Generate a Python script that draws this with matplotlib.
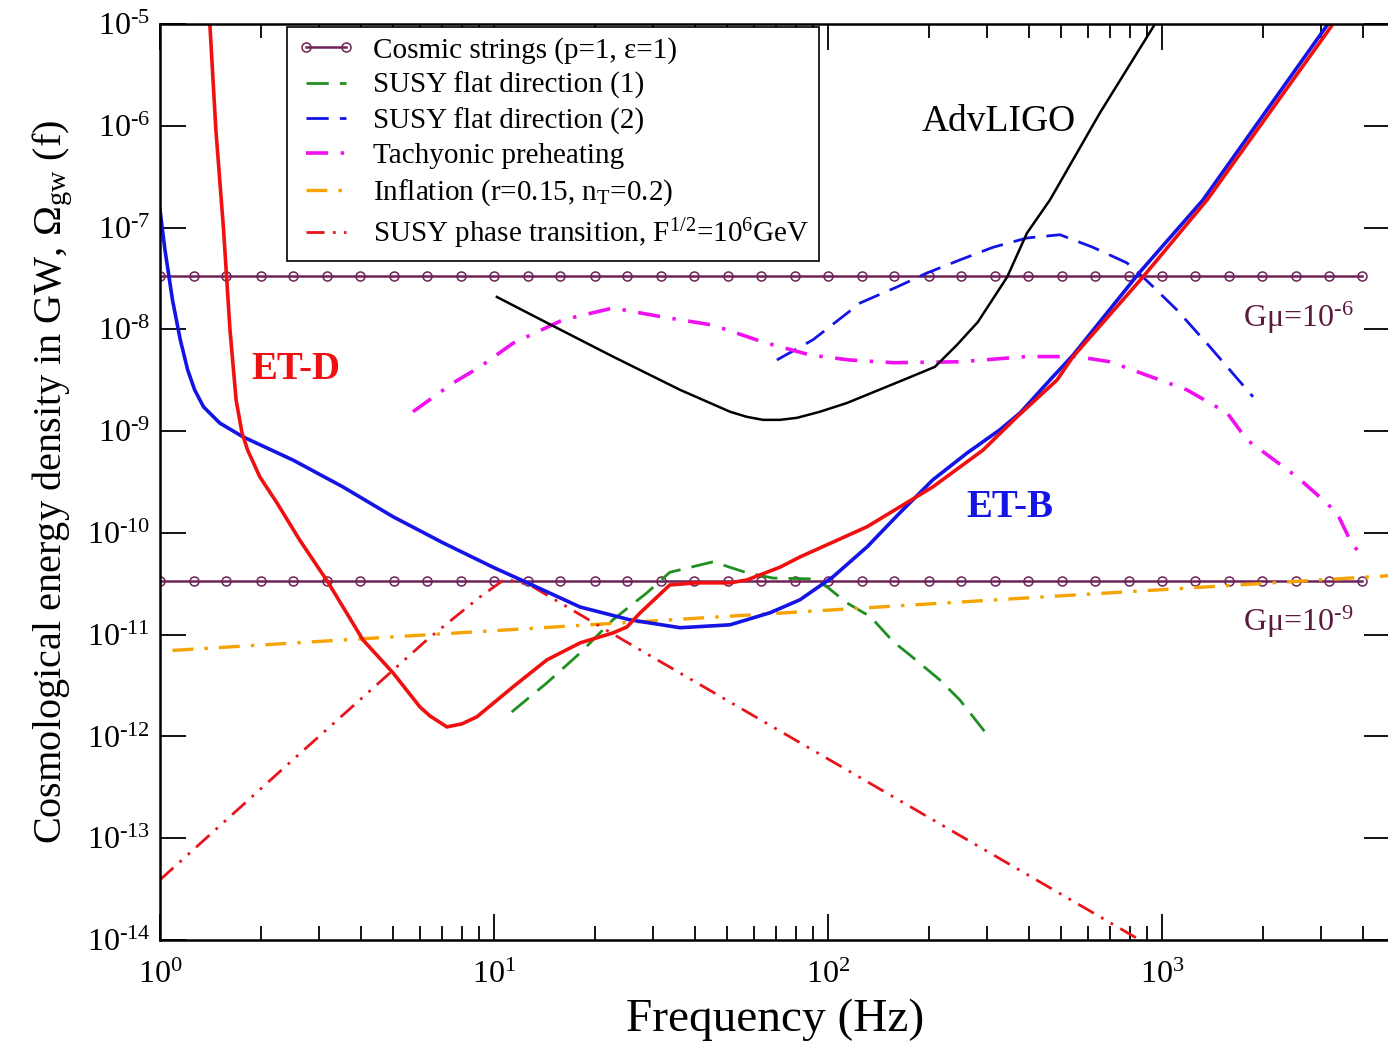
import numpy as np
import matplotlib
matplotlib.use('Agg')
import matplotlib.pyplot as plt
from matplotlib.ticker import (LogLocator, NullLocator, NullFormatter,
                               FuncFormatter, FixedLocator)

# ---- data (frequency in Hz, Omega_gw dimensionless) ----

# Einstein Telescope, configuration D
etd_f = [1.41, 1.47, 1.55, 1.62, 1.69, 1.76, 1.83, 1.99, 2.24, 2.62, 3.18, 4.05,
         4.99, 6.00, 6.43, 7.23, 8.02, 8.89, 11.4, 14.4, 18.1, 22.7, 25.0, 27.4,
         30.8, 33.6, 40.5, 50.9, 57.2, 71.8, 82.4, 131, 206, 291, 368, 485, 542,
         877, 1365, 3251]
etd_om = [1e-5, 9.1e-7, 9.5e-8, 9.9e-9, 2.02e-9, 9.6e-10, 6.5e-10, 3.55e-10,
          1.97e-10, 8.5e-11, 3.3e-11, 8.9e-12, 4.2e-12, 1.95e-12, 1.59e-12,
          1.24e-12, 1.33e-12, 1.56e-12, 3.07e-12, 5.65e-12, 8.3e-12, 1.04e-11,
          1.19e-11, 1.64e-11, 2.35e-11, 3.08e-11, 3.23e-11, 3.23e-11, 3.45e-11,
          4.6e-11, 5.8e-11, 1.15e-10, 2.83e-10, 6.5e-10, 1.38e-9, 3.18e-9,
          5.4e-9, 3.27e-8, 1.87e-7, 1e-5]

# Einstein Telescope, configuration B
etb_f = [1.0, 1.035, 1.09, 1.15, 1.21, 1.27, 1.35, 1.51, 1.77, 2.50, 3.53, 4.99,
         7.03, 9.93, 12.6, 18.1, 25.5, 36.1, 50.9, 67.0, 82.4, 103.5, 131, 164,
         206, 261, 327, 376, 462, 542, 859, 1327, 3141]
etb_om = [1.49e-7, 6.0e-8, 1.94e-8, 7.9e-9, 4.0e-9, 2.54e-9, 1.73e-9, 1.2e-9,
          8.8e-10, 5.2e-10, 2.83e-10, 1.44e-10, 8.0e-11, 4.6e-11, 3.23e-11,
          1.87e-11, 1.4e-11, 1.17e-11, 1.25e-11, 1.64e-11, 2.2e-11, 3.7e-11,
          7.3e-11, 1.57e-10, 3.32e-10, 6.1e-10, 1.03e-9, 1.51e-9, 3.18e-9,
          5.6e-9, 3.66e-8, 1.87e-7, 1e-5]

# Advanced LIGO
ligo_f = [10.2, 14.4, 22.7, 36.1, 50.9, 57.2, 63.9, 71.8, 80.7, 94.6, 114, 168,
          209, 243, 281, 344, 394, 462, 652, 953]
ligo_om = [2.08e-8, 1.16e-8, 5.4e-9, 2.54e-9, 1.55e-9, 1.38e-9, 1.29e-9,
           1.29e-9, 1.35e-9, 1.55e-9, 1.89e-9, 3.18e-9, 4.28e-9, 7.0e-9,
           1.18e-8, 3.27e-8, 8.8e-8, 1.87e-7, 1.34e-6, 1e-5]

# cosmic strings, two values of G mu (flat spectra)
cs_f = [1.0, 1.26, 1.58, 2.0, 2.51, 3.16, 3.98, 5.01, 6.31, 7.94,
        10.0, 12.6, 15.8, 20.0, 25.1, 31.6, 39.8, 50.1, 63.1, 79.4,
        100, 126, 158, 200, 251, 316, 398, 501, 631, 794,
        1000, 1259, 1585, 1995, 2512, 3162, 3981]
cs_hi = 3.35e-8   # G mu = 1e-6
cs_lo = 3.37e-11  # G mu = 1e-9

# SUSY flat direction (1)
sfd1_f = [11.3, 14.4, 18.1, 22.7, 28.7, 33.6, 45.3, 57.2, 68.4, 90.2, 99.3,
          114, 134, 157, 176, 216, 248, 295]
sfd1_om = [1.74e-12, 3.36e-12, 6.6e-12, 1.4e-11, 2.58e-11, 4.1e-11, 5.2e-11,
           4.05e-11, 3.6e-11, 3.53e-11, 2.95e-11, 2.05e-11, 1.5e-11, 8.5e-12,
           6.3e-12, 3.6e-12, 2.29e-12, 1.11e-12]

# SUSY flat direction (2)
sfd2_f = [70.3, 90.2, 125, 161, 198, 248, 312, 394, 495, 621, 785, 877, 1109,
          1393, 1873]
sfd2_om = [5.0e-9, 7.9e-9, 1.82e-8, 2.61e-8, 3.58e-8, 4.8e-8, 6.4e-8, 7.9e-8,
           8.5e-8, 6.4e-8, 4.5e-8, 3.27e-8, 1.55e-8, 6.7e-9, 2.17e-9]

# tachyonic preheating
tach_f = [5.72, 7.54, 9.08, 11.4, 16.1, 22.7, 32.1, 45.3, 63.9, 88.3, 116, 157,
          248, 394, 557, 698, 986, 1188, 1567, 1797, 2537, 3034, 3342, 3656,
          3972]
tach_om = [1.55e-9, 2.97e-9, 4.28e-9, 7.3e-9, 1.24e-8, 1.62e-8, 1.32e-8,
           1.1e-8, 7.5e-9, 5.6e-9, 5.0e-9, 4.7e-9, 4.8e-9, 5.4e-9, 5.4e-9,
           4.8e-9, 3.18e-9, 2.54e-9, 1.51e-9, 8.2e-10, 3.55e-10, 2.11e-10,
           1.57e-10, 8.5e-11, 5.8e-11]

# inflation, r=0.15, n_T=0.2
infl_f = [1.09, 4800]
infl_om = [7.0e-12, 3.8e-11]

# SUSY phase transition, F^1/2 = 1e6 GeV
spt_f = [1.0, 2.50, 6.3, 9.08, 10.8, 12.8, 24.3, 101, 859]
spt_om = [3.9e-14, 5.9e-13, 8.9e-12, 2.35e-11, 3.53e-11, 3.08e-11, 8.9e-12,
          5.9e-13, 1.0e-14]

# axis decades shown
x_decades = [1, 10, 100, 1000]
y_decades = [1e-14, 1e-13, 1e-12, 1e-11, 1e-10, 1e-9, 1e-8, 1e-7, 1e-6, 1e-5]

# ---- style ----
plt.rcParams.update({
    'font.family': 'serif',
    'font.serif': ['Liberation Serif', 'DejaVu Serif'],
    'mathtext.fontset': 'custom',
    'mathtext.rm': 'Liberation Serif',
    'mathtext.it': 'Liberation Serif:italic',
    'mathtext.bf': 'Liberation Serif:bold',
    'lines.scale_dashes': False,
    'axes.unicode_minus': False,
})

RED = '#f01010'
BLUE = '#1414e6'
CS_COL = '#6e2258'
GMU_COL = '#5a1a3e'


def pow10(v, pos):
    # short hyphen in the exponent, like the original
    e = int(round(np.log10(v)))
    return r'10$^{\text{%d}}$' % e


fig = plt.figure(figsize=(13.88, 10.43), dpi=100)
ax = fig.add_axes([160 / 1388, 103 / 1043, 1230 / 1388, 916 / 1043])
ax.set_xscale('log')
ax.set_yscale('log')

# cosmic strings
ax.plot(cs_f, np.full(len(cs_f), cs_hi), color=CS_COL, lw=1.8, marker='o',
        ms=6.5, mfc='none', mew=1.1, label=r'Cosmic strings (p=1, ε=1)')
ax.plot(cs_f, np.full(len(cs_f), cs_lo), color=CS_COL, lw=1.8, marker='o',
        ms=6.5, mfc='none', mew=1.1)

ax.plot(sfd1_f, sfd1_om, color='#1f8f1f', lw=2.0, dashes=[16, 8],
        label='SUSY flat direction (1)')
ax.plot(sfd2_f, sfd2_om, color=BLUE, lw=2.0, dashes=[16, 8],
        label='SUSY flat direction (2)')
ax.plot(tach_f, tach_om, color='#f010f0', lw=2.6, dashes=[16, 9, 2.5, 9],
        label='Tachyonic preheating')
ax.plot(infl_f, infl_om, color='#f5a300', lw=2.4, dashes=[15, 8, 2.5, 8],
        label=r'Inflation (r=0.15, n$_{\rm T}$=0.2)')
ax.plot(spt_f, spt_om, color='#e8141c', lw=2.0, dashes=[13, 6, 2, 6, 2, 6],
        label=r'SUSY phase transition, F$^{1/2}$=10$^{6}$GeV')

# detector sensitivity curves
ax.plot(ligo_f, ligo_om, color='black', lw=1.8)
ax.plot(etb_f, etb_om, color=BLUE, lw=2.6)
ax.plot(etd_f, etd_om, color=RED, lw=2.6)

ax.set_xlim(1, 4816)
ax.set_ylim(1e-14, 1e-5)

# annotations
ax.text(2.55, 4.0e-9, 'ET-D', color=RED, fontsize=28, fontweight='bold',
        ha='center', va='center')
ax.text(351, 1.76e-10, 'ET-B', color=BLUE, fontsize=28, fontweight='bold',
        ha='center', va='center')
ax.text(325, 1.09e-6, 'AdvLIGO', fontsize=27, ha='center', va='center')
ax.text(1749, 1.29e-8, r'Gμ=10$^{\text{-6}}$', color=GMU_COL, fontsize=23,
        ha='left', va='center')
ax.text(1749, 1.34e-11, r'Gμ=10$^{\text{-9}}$', color=GMU_COL, fontsize=23,
        ha='left', va='center')

# axes, ticks (only decades inside the view, so no hidden labels)
ax.xaxis.set_major_locator(FixedLocator(x_decades))
ax.xaxis.set_minor_locator(LogLocator(base=10, subs=np.arange(2, 10), numticks=20))
ax.xaxis.set_minor_formatter(NullFormatter())
ax.xaxis.set_major_formatter(FuncFormatter(pow10))
ax.yaxis.set_major_locator(FixedLocator(y_decades))
ax.yaxis.set_minor_locator(NullLocator())
ax.yaxis.set_major_formatter(FuncFormatter(pow10))
ax.tick_params(which='both', direction='in', top=True, right=True, width=1.3)
ax.tick_params(which='major', length=19, labelsize=23)
ax.tick_params(which='minor', length=10)
ax.tick_params(axis='x', pad=15)
ax.tick_params(axis='y', pad=7)
for sp in ax.spines.values():
    sp.set_linewidth(1.8)

ax.set_xlabel('Frequency (Hz)', fontsize=34, labelpad=6)
ax.set_ylabel(r'Cosmological energy density in GW, $\Omega_{\rm gw}$ (f)',
              fontsize=29, labelpad=8)

leg = ax.legend(loc='upper left', bbox_to_anchor=(0.103, 0.997), fontsize=21,
                frameon=True, fancybox=False, edgecolor='black', framealpha=1,
                handlelength=2.0, handletextpad=0.6, labelspacing=0.28,
                borderpad=0.35, borderaxespad=0, numpoints=2)
leg.get_frame().set_linewidth(1.2)

fig.savefig('out.png', dpi=100)
